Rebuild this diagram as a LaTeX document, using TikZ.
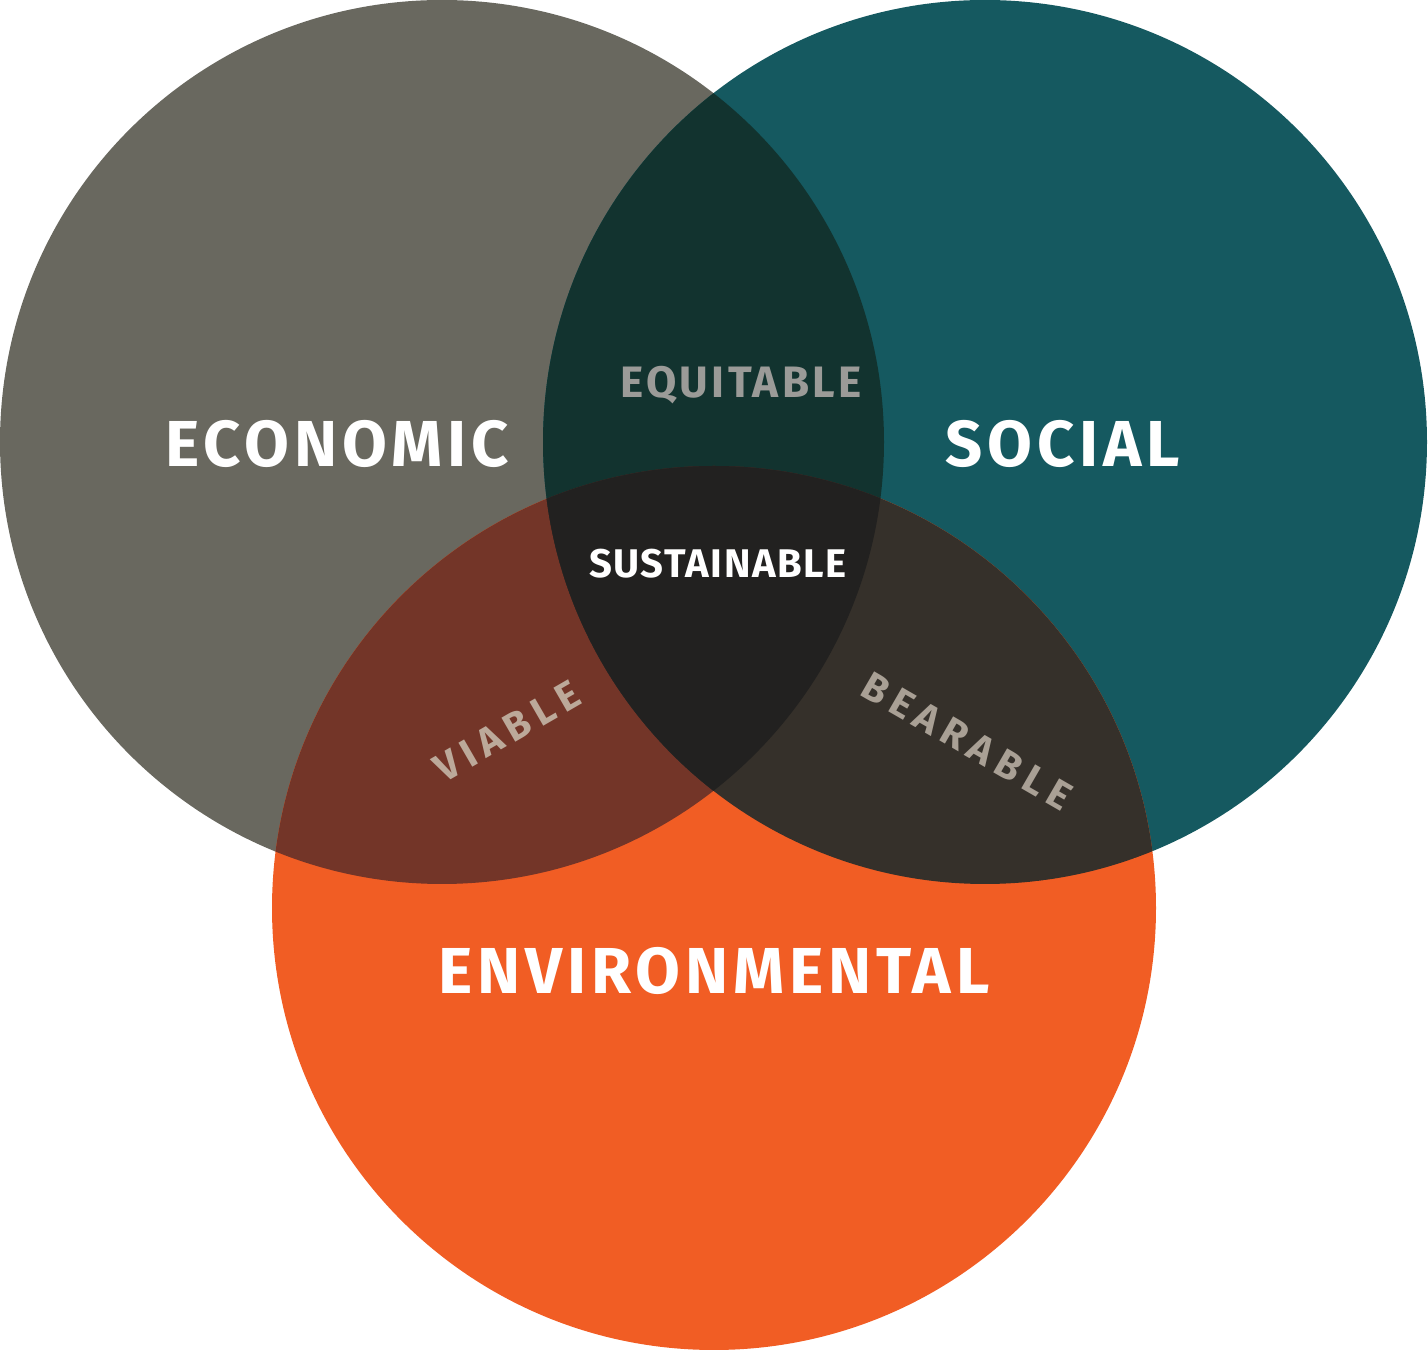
\documentclass[tikz,border=0pt]{standalone}
\usepackage{fontspec}
\setmainfont{Fira Sans}
\newfontfamily\bigfont[LetterSpace=7.5]{Fira Sans}
\newfontfamily\midfont[LetterSpace=7.5]{Fira Sans}
\newfontfamily\sustfont[LetterSpace=4]{Fira Sans}
\newfontfamily\widefont[LetterSpace=18]{Fira Sans}
\definecolor{econ}{HTML}{69685F}
\definecolor{soc}{HTML}{155960}
\definecolor{env}{HTML}{F15D24}
\definecolor{econsoc}{HTML}{12332F}
\definecolor{econenv}{HTML}{733528}
\definecolor{socenv}{HTML}{35302A}
\definecolor{allthree}{HTML}{222120}
\definecolor{equitxt}{HTML}{9B9B98}
\definecolor{viatxt}{HTML}{BCA99A}
\definecolor{beartxt}{HTML}{A9A095}
\tikzset{
  big/.style={text=white, font=\bigfont\bfseries\fontsize{65}{65}\selectfont, inner sep=0pt, anchor=base},
  mid/.style={font=\midfont\bfseries\fontsize{44}{44}\selectfont, inner sep=0pt, anchor=base},
  wide/.style={font=\widefont\bfseries\fontsize{40}{40}\selectfont, inner sep=0pt, anchor=base}
}
\begin{document}
\begin{tikzpicture}[x=1pt,y=1pt]
\useasboundingbox (0,0) rectangle (1428,1350);
\coordinate (E) at (442,908);
\coordinate (S) at (985,908);
\coordinate (V) at (714,442);
\fill[econ] (E) circle (442);
\fill[soc] (S) circle (442);
\fill[env] (V) circle (442);
\begin{scope}
  \clip (E) circle (442);
  \fill[econsoc] (S) circle (442);
  \fill[econenv] (V) circle (442);
  \clip (S) circle (442);
  \fill[allthree] (V) circle (442);
\end{scope}
\begin{scope}
  \clip (S) circle (442);
  \clip (V) circle (442);
  \fill[socenv] (S) circle (442);
  \clip (E) circle (442);
  \fill[allthree] (V) circle (442);
\end{scope}
\node[big] (econ) at (337,883) {ECONOMIC};
\node[big] (soc) at (1063,883) {SOCIAL};
\node[big] (env) at (714,356) {ENVIRONMENTAL};
\node[mid, text=equitxt] (equi) at (741,952) {EQUITABLE};
\node[mid, text=white, font=\sustfont\bfseries\fontsize{40}{40}\selectfont] (sust) at (718,772) {SUSTAINABLE};
\node[wide, text=viatxt, rotate=30] (via) at (514,607) {VIABLE};
\node[wide, text=beartxt, rotate=-30] (bear) at (960,597) {BEARABLE};
\end{tikzpicture}
\end{document}
